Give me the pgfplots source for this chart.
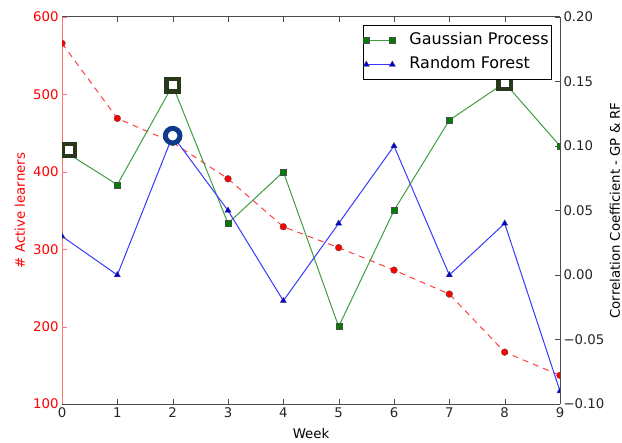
\documentclass[border=0pt]{standalone}
\usepackage{fontspec}
\setmainfont{DejaVu Sans}
\usepackage{pgfplots}
\pgfplotsset{compat=1.18}
\definecolor{gline}{rgb}{0.25,0.62,0.25}
\definecolor{gmark}{rgb}{0,0.5,0}
\definecolor{bline}{rgb}{0.22,0.22,1}
\definecolor{bmark}{rgb}{0,0,0.85}
\definecolor{rline}{rgb}{1,0.25,0.25}
\definecolor{rmark}{rgb}{1,0,0}
\definecolor{hlsq}{HTML}{27391A}
\definecolor{hlci}{HTML}{0E3A8A}
\definecolor{spine}{rgb}{0.3,0.3,0.3}
\begin{document}
\begin{tikzpicture}
\pgfplotsset{
  /pgf/number format/assume math mode=true,
  every tick label/.append style={font=\fontsize{13.3bp}{16bp}\selectfont},
  every axis label/.append style={font=\fontsize{13.3bp}{16bp}\selectfont},
  major tick length=5bp,
  tick align=inside,
}
\begin{axis}[
  scale only axis, width=498bp, height=387bp, at={(0,0)}, anchor=south west,
  xmin=0, xmax=9, ymin=100, ymax=600,
  xtick={0,1,...,9}, ytick={100,200,...,600},
  axis y line*=left,
  y axis line style={-,draw=red!55,line width=1bp},
  x axis line style={draw=spine,line width=1bp},
  xtick style={draw=spine},
  ytick style={draw=red!55},
  yticklabel style={text=red},
  xticklabel style={text=black!85},
  xlabel={Week},
  ylabel={\# Active learners},
  ylabel style={text=red, at={(axis description cs:-0.0843,0.5)}, rotate=0, anchor=center},
  xlabel style={at={(axis description cs:0.5,-0.0775)}, anchor=center},
  clip marker paths=true,
]
\addplot[color=rline, line width=1bp, dash pattern=on 6bp off 5bp,
  mark=*, mark size=3.4bp, mark options={solid, fill=rmark, draw=black!70, line width=0.3bp}]
  coordinates {(0,566) (1,469) (2,438) (3,391) (4,329) (5,302) (6,273) (7,242) (8,167) (9,137)};
\end{axis}
\begin{axis}[
  scale only axis, width=498bp, height=387bp, at={(0,0)}, anchor=south west,
  xmin=0, xmax=9, ymin=-0.1, ymax=0.2,
  axis x line=none,
  axis y line*=right,
  y axis line style={-,draw=spine,line width=1bp},
  ytick style={draw=spine},
  ytick={-0.1,-0.05,0,0.05,0.1,0.15,0.2},
  yticklabels={−0.10,−0.05,0.00,0.05,0.10,0.15,0.20},
  yticklabel style={text=black!85},
  ylabel={Correlation Coefficient - GP \& RF},
  ylabel style={at={(axis description cs:1.1104,0.5)}, rotate=0, anchor=center},
  clip marker paths=true,
  legend style={at={(axis description cs:0.984,0.979)}, anchor=north east,
    draw=black, line width=0.8bp, fill=white,
    font=\fontsize{16bp}{19bp}\selectfont,
    inner xsep=0bp, inner ysep=4bp, row sep=2bp,
    nodes={inner sep=3bp, text height=12bp, text depth=4bp},
    /tikz/every odd column/.append style={column sep=11bp}},
  legend cell align=left,
  legend image code/.code={\draw[mark repeat=2,mark phase=1,#1] plot coordinates {(0bp,0bp) (13bp,0bp) (26bp,0bp)};},
]
\addplot[color=gline, line width=1bp, mark=square*, mark size=3bp,
  mark options={fill=gmark, draw=black!70, line width=0.3bp}]
  coordinates {(0,0.097) (1,0.07) (2,0.147) (3,0.04) (4,0.08) (5,-0.04) (6,0.05) (7,0.12) (8,0.149) (9,0.10)};
\addlegendentry{Gaussian Process}
\addplot[color=bline, line width=1bp, mark=triangle*, mark size=3.6bp,
  mark options={fill=bmark, draw=black!70, line width=0.3bp}]
  coordinates {(0,0.03) (1,0.0) (2,0.108) (3,0.05) (4,-0.02) (5,0.04) (6,0.10) (7,0.0) (8,0.04) (9,-0.09)};
\addlegendentry{Random Forest}
\addplot[forget plot, only marks, mark=square*, mark size=6.2bp,
  mark options={fill=white, draw=hlsq, line width=4.3bp}]
  coordinates {(0.12,0.097) (2,0.147) (8,0.149)};
\addplot[forget plot, only marks, mark=*, mark size=7.3bp,
  mark options={fill=white, draw=hlci, line width=5bp}]
  coordinates {(2,0.108)};
\end{axis}
\pgfresetboundingbox
\useasboundingbox (-62bp,-39bp) rectangle (560bp,404bp);
\end{tikzpicture}
\end{document}
